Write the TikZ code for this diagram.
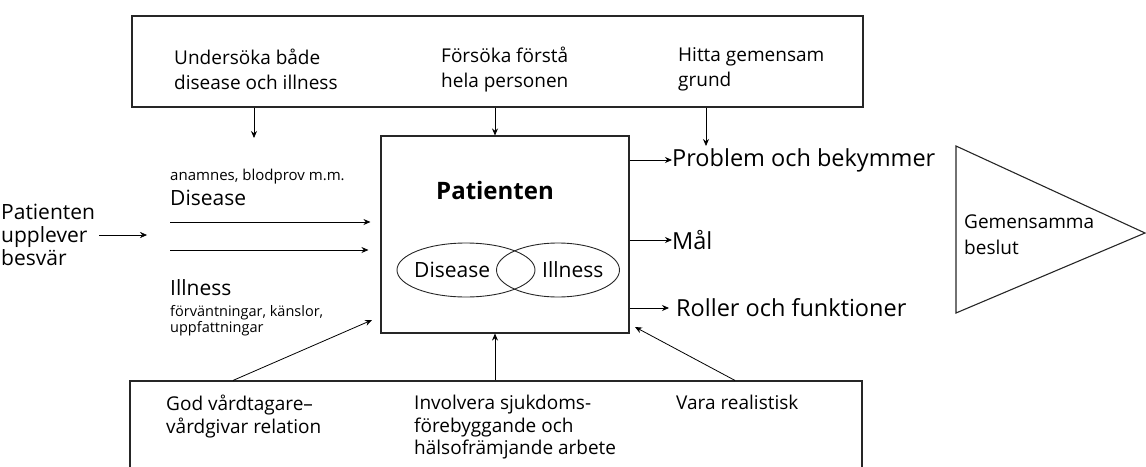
\documentclass[tikz,border=0pt]{standalone}
\usepackage{fontspec}
\setmainfont{Open Sans}
\usetikzlibrary{arrows.meta, positioning, shapes.geometric}

\begin{document}
\begin{tikzpicture}[
    x=1pt, y=-1pt,
    box/.style={draw=black!85, line width=1.1pt},
    oval/.style={draw=black!85, ellipse, line width=0.9pt, inner sep=0pt, minimum height=54},
    txt/.style={anchor=west, inner sep=0pt, align=left, font=\fontsize{19}{25}\selectfont},
    big/.style={anchor=west, inner sep=0pt, font=\fontsize{23.5}{25}\selectfont},
    mid/.style={anchor=west, inner sep=0pt, font=\fontsize{21}{25}\selectfont},
    small/.style={anchor=west, inner sep=0pt, align=left, font=\fontsize{15}{15.5}\selectfont},
    >={Stealth[width=6pt, length=7pt]},
]
\useasboundingbox (0,0) rectangle (1146,466);
\clip (0,0) rectangle (1146,466);

\node[box, minimum width=731, minimum height=91] (top) at (497.5,61.5) {};
\node[txt] (t1) at (174,69.5) {Undersöka både\\disease och illness};
\node[txt] (t2) at (441,69.5) {Försöka förstå\\hela personen};
\node[txt] (t3) at (678,69.5) {Hitta gemensam\\grund};

\node[box, minimum width=248, minimum height=197] (pat) at (505,234.5) {};
\node[inner sep=0pt, font=\fontsize{24}{25}\selectfont\bfseries] (pname) at (495,190) {Patienten};
\node[oval, minimum width=138] (dis) at (466,270) {};
\node[oval, minimum width=123] (ill) at (558,270) {};
\node[mid] (dist) at (414,270) {Disease};
\node[mid] (illt) at (542,270) {Illness};

\node[small] (anam) at (170,177) {anamnes, blodprov m.m.};
\node[mid] (dleft) at (170,198) {Disease};
\node[mid] (ileft) at (170,288) {Illness};
\node[small, font=\fontsize{14.5}{15.5}\selectfont] (fv) at (170,320.5) {förväntningar, känslor,\\uppfattningar};
\node[txt, font=\fontsize{21}{23}\selectfont] (who) at (1,235) {Patienten\\upplever\\besvär};

\node[big] (prob) at (672,160) {Problem och bekymmer};
\node[big] (mal) at (672,240) {Mål};
\node[big] (roll) at (676,308) {Roller och funktioner};

\draw[box] (956,146) -- (1145,233) -- (956,313) -- cycle;
\node[txt, font=\fontsize{19}{26}\selectfont] (gem) at (964,235) {Gemensamma\\beslut};

\node[box, minimum width=732, minimum height=110] (bot) at (496,436) {};
\node[txt, anchor=north west, font=\fontsize{19}{22.5}\selectfont] (god) at (166,395) {God vårdtagare–\\vårdgivar relation};
\node[txt, anchor=north west, font=\fontsize{19}{22.5}\selectfont] (inv) at (414,395) {Involvera sjukdoms-\\förebyggande och\\hälsofrämjande arbete};
\node[txt, anchor=north west, font=\fontsize{19}{22.5}\selectfont] (vara) at (676,395) {Vara realistisk};

\coordinate (a1) at (254,138);
\coordinate (a2) at (495,0);
\coordinate (a3) at (706,146);
\coordinate (d1) at (170,222);
\coordinate (d2) at (170,250);
\coordinate (u1) at (147,0);
\coordinate (g0) at (233,0);
\coordinate (g1) at (372,320);
\coordinate (v0) at (735,0);
\coordinate (v1) at (635,327);

\draw[->, thick] (top.south -| a1) -- (a1);
\draw[->, thick] (top.south -| a2) -- (a2 |- pat.north);
\draw[->, thick] (top.south -| a3) -- (a3);
\draw[->, thick] (pat.east |- prob.west) -- (prob.west);
\draw[->, thick] (pat.east |- mal.west) -- (mal.west);
\draw[->, thick, shorten >=7pt] (pat.east |- roll.west) -- (roll.west);
\draw[->, thick, shorten >=10pt] (d1) -- (d1 -| pat.west);
\draw[->, thick, shorten >=12pt] (d2) -- (d2 -| pat.west);
\draw[->] ([xshift=4pt]who.east) -- (who.east -| u1);
\draw[->, thick] (g0 |- bot.north) -- (g1);
\draw[->, thick] (bot.north -| a2) -- (a2 |- pat.south);
\draw[->, thick] (v0 |- bot.north) -- (v1);
\end{tikzpicture}
\end{document}
